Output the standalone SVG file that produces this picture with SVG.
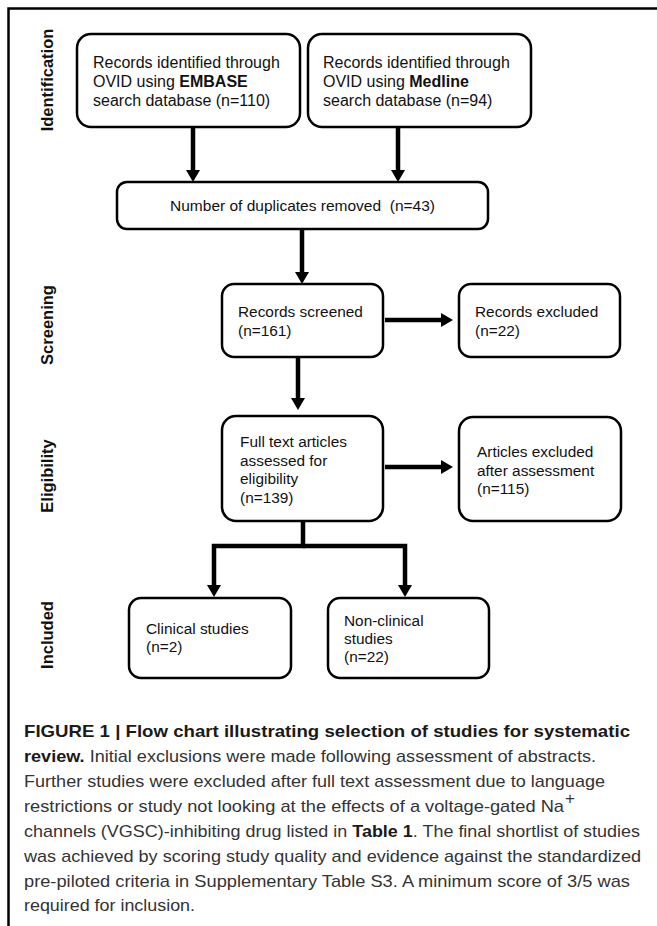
<svg xmlns="http://www.w3.org/2000/svg" width="657" height="926" viewBox="0 0 657 926">
<style>
.box{fill:#fff;stroke:#000;stroke-width:2.5}
.t{font-family:"Liberation Sans",Arial,sans-serif;font-size:15.4px;fill:#111}
.tb{font-size:16px}
.td{font-size:15.5px}
.lab{font-family:"Liberation Sans",Arial,sans-serif;font-size:16.5px;font-weight:bold;fill:#111}
.con{fill:none;stroke:#000;stroke-width:4.5;stroke-linejoin:miter}
.cap{font-family:"Liberation Sans Narrow","Liberation Sans",Arial,sans-serif;font-size:17px;fill:#333}
.capb{font-weight:bold;fill:#1a1a1a}
</style>
<defs>
<marker id="ah" markerUnits="userSpaceOnUse" viewBox="0 0 12 14" markerWidth="12" markerHeight="14" refX="0" refY="7" orient="auto">
<path d="M0,0 L12,7 L0,14 Z" fill="#000"/>
</marker>
</defs>
<rect width="657" height="926" fill="#fff"/>
<path d="M8.5,926 V8.5 H657" fill="none" stroke="#000" stroke-width="2.5"/>

<g id="labels">
<text class="lab" transform="translate(53,80) rotate(-90)" text-anchor="middle">Identification</text>
<text class="lab" transform="translate(53,325) rotate(-90)" text-anchor="middle">Screening</text>
<text class="lab" transform="translate(53,476) rotate(-90)" text-anchor="middle">Eligibility</text>
<text class="lab" transform="translate(53,635) rotate(-90)" text-anchor="middle">Included</text>
</g>

<g id="connectors">
<path class="con" d="M193,127 V170" marker-end="url(#ah)"/>
<path class="con" d="M398,127 V170" marker-end="url(#ah)"/>
<path class="con" d="M302,229 V272" marker-end="url(#ah)"/>
<path class="con" d="M385,320 H441" marker-end="url(#ah)"/>
<path class="con" d="M298,357 V398" marker-end="url(#ah)"/>
<path class="con" d="M385,467 H441" marker-end="url(#ah)"/>
<path class="con" d="M303,521 V546 H214 V585" marker-end="url(#ah)"/>
<path class="con" d="M303,546 H405 V585" marker-end="url(#ah)"/>
</g>

<g id="embase">
<rect class="box" x="77" y="34" width="223" height="93" rx="14"/>
<text class="t tb" x="93" y="67.5">Records identified through</text>
<text class="t tb" x="93" y="86.5">OVID using <tspan font-weight="bold">EMBASE</tspan></text>
<text class="t tb" x="93" y="105.5">search database (n=110)</text>
</g>
<g id="medline">
<rect class="box" x="308" y="34" width="223" height="93" rx="14"/>
<text class="t tb" x="323" y="67.5">Records identified through</text>
<text class="t tb" x="323" y="86.5">OVID using <tspan font-weight="bold">Medline</tspan></text>
<text class="t tb" x="323" y="105.5">search database (n=94)</text>
</g>
<g id="duplicates">
<rect class="box" x="117" y="182" width="371" height="47" rx="10"/>
<text class="t td" x="302.5" y="211" text-anchor="middle">Number of duplicates removed&#160; (n=43)</text>
</g>
<g id="screened">
<rect class="box" x="222" y="284" width="161" height="73" rx="12"/>
<text class="t" x="238" y="317">Records screened</text>
<text class="t" x="238" y="336">(n=161)</text>
</g>
<g id="rexcluded">
<rect class="box" x="459" y="284" width="161" height="73" rx="12"/>
<text class="t" x="475" y="317">Records excluded</text>
<text class="t" x="475" y="336">(n=22)</text>
</g>
<g id="fulltext">
<rect class="box" x="222" y="416" width="161" height="105" rx="14"/>
<text class="t" x="240" y="447">Full text articles</text>
<text class="t" x="240" y="465.5">assessed for</text>
<text class="t" x="240" y="484">eligibility</text>
<text class="t" x="240" y="502.5">(n=139)</text>
</g>
<g id="aexcluded">
<rect class="box" x="459" y="417" width="162" height="104" rx="14"/>
<text class="t" x="477" y="457">Articles excluded</text>
<text class="t" x="477" y="475.5">after assessment</text>
<text class="t" x="477" y="494">(n=115)</text>
</g>
<g id="clinical">
<rect class="box" x="129" y="598" width="162" height="80" rx="12"/>
<text class="t" x="146" y="634">Clinical studies</text>
<text class="t" x="146" y="652">(n=2)</text>
</g>
<g id="nonclinical">
<rect class="box" x="328" y="598" width="161" height="80" rx="12"/>
<text class="t" x="344" y="626">Non-clinical</text>
<text class="t" x="344" y="644">studies</text>
<text class="t" x="344" y="662">(n=22)</text>
</g>

<g id="caption">
<text class="cap capb" x="24" y="737" textLength="606" lengthAdjust="spacingAndGlyphs">FIGURE 1 | Flow chart illustrating selection of studies for systematic</text>
<text class="cap" x="24" y="762" textLength="572" lengthAdjust="spacingAndGlyphs"><tspan class="capb">review.</tspan> Initial exclusions were made following assessment of abstracts.</text>
<text class="cap" x="24" y="787" textLength="581" lengthAdjust="spacingAndGlyphs">Further studies were excluded after full text assessment due to language</text>
<text class="cap" x="24" y="811.5" textLength="540" lengthAdjust="spacingAndGlyphs">restrictions or study not looking at the effects of a voltage-gated Na</text>
<text class="cap" x="565" y="804" font-size="12">+</text>
<text class="cap" x="24" y="836.5" textLength="616" lengthAdjust="spacingAndGlyphs">channels (VGSC)-inhibiting drug listed in <tspan class="capb">Table 1</tspan>. The final shortlist of studies</text>
<text class="cap" x="24" y="861.5" textLength="617" lengthAdjust="spacingAndGlyphs">was achieved by scoring study quality and evidence against the standardized</text>
<text class="cap" x="24" y="886.5" textLength="606" lengthAdjust="spacingAndGlyphs">pre-piloted criteria in Supplementary Table S3. A minimum score of 3/5 was</text>
<text class="cap" x="24" y="911" textLength="171" lengthAdjust="spacingAndGlyphs">required for inclusion.</text>
</g>
</svg>
